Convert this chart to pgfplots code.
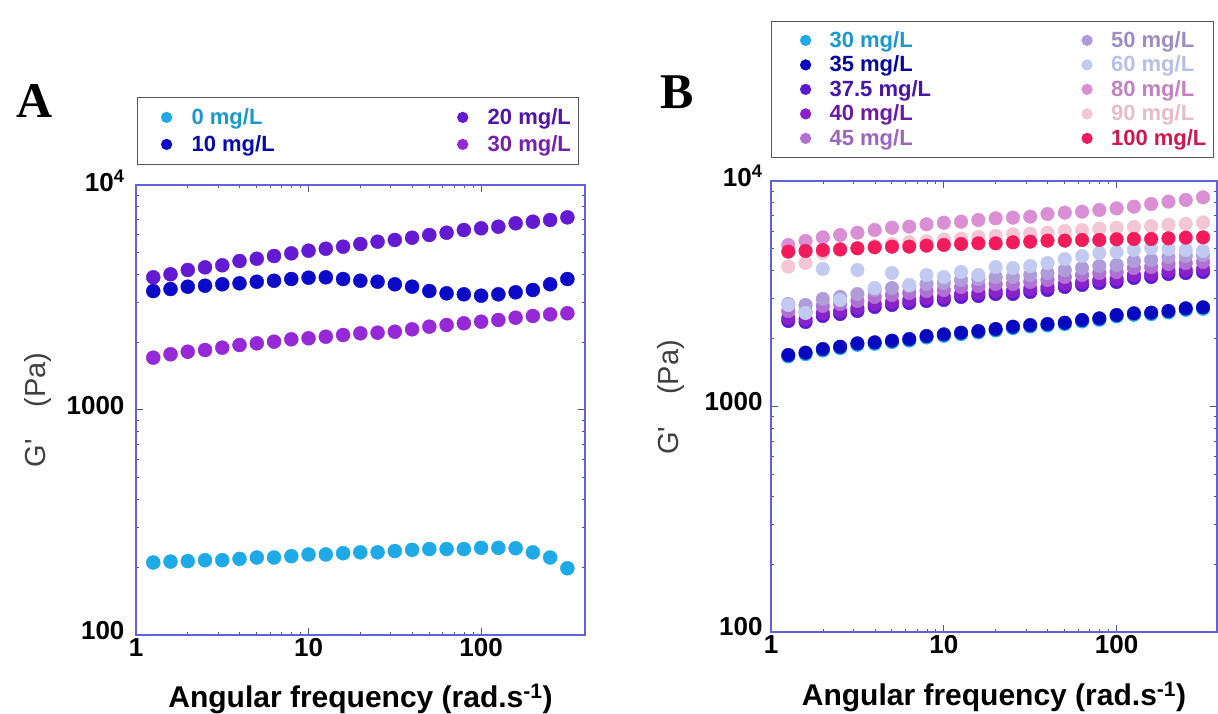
\documentclass[border=0pt]{standalone}
\usepackage{pgfplots}
\pgfplotsset{compat=1.18}
\usepackage{pgfplotstable}
\usepackage{fontspec}
\setmainfont{Liberation Sans}
\newfontfamily\seriffont{Liberation Serif}

\definecolor{frameblue}{HTML}{6262D6}
\definecolor{tickcol}{HTML}{55557A}
\definecolor{cAa}{HTML}{1EAAE6}
\definecolor{cAb}{HTML}{0A0AC8}
\definecolor{cAc}{HTML}{6419D2}
\definecolor{cAd}{HTML}{9628D7}
\definecolor{cBa}{HTML}{1EAAE6}
\definecolor{cBb}{HTML}{0808C0}
\definecolor{cBc}{HTML}{5A1AD2}
\definecolor{cBd}{HTML}{8A22CC}
\definecolor{cBe}{HTML}{B070D4}
\definecolor{cBf}{HTML}{B09CDA}
\definecolor{cBg}{HTML}{C2CAF2}
\definecolor{cBh}{HTML}{DA8ED4}
\definecolor{cBi}{HTML}{F2C6D4}
\definecolor{cBj}{HTML}{F21C5C}

\pgfplotstableread{
w s0 s10 s20 s30
1.2589 210 3379 3890 1708
1.5849 212 3449 4010 1769
1.9953 213 3532 4190 1816
2.5119 215 3568 4306 1848
3.1623 215 3620 4397 1892
3.9811 218 3657 4594 1945
5.0119 221 3717 4702 1979
6.3096 221 3755 4835 2012
7.9433 224 3821 4970 2062
10 228 3873 5105 2083
12.589 228 3889 5210 2117
15.849 231 3821 5318 2154
19.953 233 3755 5467 2192
25.119 233 3717 5597 2206
31.623 236 3620 5697 2228
39.811 239 3532 5832 2284
50.119 241 3379 5995 2346
63.096 241 3301 6138 2387
79.433 241 3267 6310 2429
100 244 3221 6421 2469
125.89 244 3267 6526 2512
158.49 243 3335 6757 2572
199.53 233 3415 6869 2617
251.19 221 3620 6990 2662
316.23 198 3821 7183 2691
}\tabA

\pgfplotstableread{
w s30 s35 s375 s40 s45 s50 s60 s80 s90 s100
1.2589 1667 1692 2394 2468 2651 2848 2819 5203 4170 4861
1.5849 1707 1733 2370 2444 2625 2819 2598 5419 4330 4894
1.9953 1772 1799 2520 2598 2791 2998 4071 5627 4800 4943
2.5119 1814 1842 2572 2652 2848 3060 2967 5762 4950 4977
3.1623 1877 1906 2651 2733 2936 3153 4030 5901 5050 5028
3.9811 1897 1926 2762 2848 3059 3285 3354 6064 5150 5080
5.0119 1930 1959 2819 2906 3122 3353 3909 6209 5250 5115
6.3096 1962 1992 2877 2966 3186 3422 3458 6274 5350 5115
7.9433 2023 2054 2936 3027 3251 3492 3829 6425 5400 5167
10 2058 2089 2967 3059 3286 3529 3752 6536 5500 5203
12.589 2093 2125 3059 3154 3388 3639 3949 6604 5550 5255
15.849 2129 2161 3090 3186 3422 3676 3829 6718 5650 5292
19.953 2173 2206 3154 3252 3493 3752 4155 6834 5700 5292
25.119 2225 2259 3154 3252 3493 3752 4113 6880 5800 5346
31.623 2264 2298 3219 3319 3565 3829 4198 6950 5850 5383
39.811 2287 2322 3286 3388 3639 3909 4328 7142 5900 5438
50.119 2318 2353 3388 3493 3752 4030 4509 7240 6000 5438
63.096 2383 2419 3458 3565 3829 4113 4649 7311 6050 5475
79.433 2423 2460 3529 3638 3908 4198 4794 7437 6150 5475
100 2508 2546 3565 3675 3948 4241 4843 7565 6200 5513
125.89 2551 2590 3714 3829 4113 4418 4943 7695 6250 5532
158.49 2568 2607 3752 3868 4155 4463 5046 7907 6300 5532
199.53 2612 2652 3869 3989 4285 4602 4994 8099 6400 5570
251.19 2684 2725 3909 4030 4329 4649 4943 8238 6450 5608
316.23 2713 2754 3949 4071 4373 4697 4893 8464 6550 5627
}\tabB

\begin{document}
\begin{tikzpicture}
\useasboundingbox (0pt,0pt) rectangle (1218pt,713pt);
\node[anchor=base, font=\fontsize{50}{50}\selectfont\seriffont\bfseries] at (35pt,595pt) {A};
\node[anchor=base, font=\fontsize{50}{50}\selectfont\seriffont\bfseries] at (677pt,604pt) {B};

\begin{axis}[at={(136pt,78pt)}, anchor=south west,
  scale only axis, width=449pt, height=450pt,
  xmode=log, ymode=log, xmin=1, xmax=400, ymin=100, ymax=10000,
  axis line style={draw=frameblue, line width=1.3pt},
  tick style={draw=tickcol, line width=1pt},
  tick align=inside, major tick length=7pt,
  xtick={1,10,100}, xticklabels={1,10,100},
  ytick={100,1000,10000}, yticklabels={100,1000,10\textsuperscript{4}},
  minor xtick={}, minor ytick={},
  tick label style={font=\fontsize{26}{26}\selectfont\bfseries},
  yticklabel style={xshift=-8pt, yshift=4pt},
  xlabel={Angular frequency (rad.s\textsuperscript{-1})},
  xlabel style={font=\fontsize{30}{30}\selectfont\bfseries, at={(axis description cs:0.5,-0.162)}, anchor=base},
  ylabel={G\textquotesingle\hspace{32pt}(Pa)},
  ylabel style={font=\fontsize{29}{29}\selectfont\color{black!75}, at={(axis description cs:-0.218,0.5)}, anchor=center},
  legend columns=2, transpose legend, legend cell align=left,
  legend style={at={(axis description cs:0,1)}, anchor=south west, xshift=1pt, yshift=20pt,
    draw=black!65, line width=1.2pt, inner xsep=6pt, inner ysep=10pt, row sep=7pt,
    font=\fontsize{22}{22}\selectfont\bfseries,
    nodes={inner sep=2pt, text height=15pt, text depth=1pt},
    /tikz/every even column/.append style={column sep=163pt}},
  legend image code/.code={\path[draw=none,fill=none] (0pt,0pt) -- (46pt,0pt); \draw[#1, mark size=5pt] plot coordinates {(23pt,0pt)};},
]
\addplot[only marks, mark=*, mark size=7pt, color=cAa] table[x=w,y=s0]{\tabA};
\addlegendentry{\textcolor{cAa!90!black}{0 mg/L}}
\addplot[only marks, mark=*, mark size=7pt, color=cAb] table[x=w,y=s10]{\tabA};
\addlegendentry{\textcolor{cAb!85!black}{10 mg/L}}
\addplot[only marks, mark=*, mark size=7pt, color=cAc] table[x=w,y=s20]{\tabA};
\addlegendentry{\textcolor{cAc!80!black}{20 mg/L}\hspace{6pt}}
\addplot[only marks, mark=*, mark size=7pt, color=cAd] table[x=w,y=s30]{\tabA};
\addlegendentry{\textcolor{cAd!80!black}{30 mg/L}\hspace{6pt}}
\end{axis}

\begin{axis}[at={(771pt,81pt)}, anchor=south west,
  scale only axis, width=446pt, height=451pt,
  xmode=log, ymode=log, xmin=1, xmax=381, ymin=100, ymax=10000,
  axis line style={draw=frameblue, line width=1.3pt},
  tick style={draw=tickcol, line width=1pt},
  tick align=inside, major tick length=7pt,
  xtick={1,10,100}, xticklabels={1,10,100},
  ytick={100,1000,10000}, yticklabels={100,1000,10\textsuperscript{4}},
  minor xtick={}, minor ytick={},
  tick label style={font=\fontsize{26}{26}\selectfont\bfseries},
  yticklabel style={xshift=-5pt, yshift=5pt},
  xlabel={Angular frequency (rad.s\textsuperscript{-1})},
  xlabel style={font=\fontsize{30}{30}\selectfont\bfseries, at={(axis description cs:0.5,-0.162)}, anchor=base},
  ylabel={G\textquotesingle\hspace{32pt}(Pa)},
  ylabel style={font=\fontsize{29}{29}\selectfont\color{black!75}, at={(axis description cs:-0.225,0.52)}, anchor=center},
  legend columns=5, transpose legend, legend cell align=left,
  legend style={at={(axis description cs:0,1)}, anchor=south west, xshift=0pt, yshift=23pt,
    draw=black!65, line width=1.2pt, inner xsep=5pt, inner ysep=9pt, row sep=4.5pt,
    font=\fontsize{22}{22}\selectfont\bfseries,
    nodes={inner sep=2pt, text height=15pt, text depth=1pt},
    /tikz/every even column/.append style={column sep=125pt}},
  legend image code/.code={\path[draw=none,fill=none] (0pt,0pt) -- (51pt,0pt); \draw[#1, mark size=5pt] plot coordinates {(29pt,0pt)};},
]
\addplot[only marks, mark=*, mark size=6.8pt, color=cBa] table[x=w,y=s30]{\tabB};
\addlegendentry{\textcolor{cBa!90!black}{30 mg/L}}
\addplot[only marks, mark=*, mark size=6.8pt, color=cBb] table[x=w,y=s35]{\tabB};
\addlegendentry{\textcolor{cBb!80!black}{35 mg/L}}
\addplot[only marks, mark=*, mark size=6.8pt, color=cBc] table[x=w,y=s375]{\tabB};
\addlegendentry{\textcolor{cBc!80!black}{37.5 mg/L}}
\addplot[only marks, mark=*, mark size=6.8pt, color=cBd] table[x=w,y=s40]{\tabB};
\addlegendentry{\textcolor{cBd!80!black}{40 mg/L}}
\addplot[only marks, mark=*, mark size=6.8pt, color=cBe] table[x=w,y=s45]{\tabB};
\addlegendentry{\textcolor{cBe!90!black}{45 mg/L}}
\addplot[only marks, mark=*, mark size=6.8pt, color=cBf] table[x=w,y=s50]{\tabB};
\addlegendentry{\textcolor{cBf!90!black}{50 mg/L}\hspace{5pt}}
\addplot[only marks, mark=*, mark size=6.8pt, color=cBg] table[x=w,y=s60]{\tabB};
\addlegendentry{\textcolor{cBg!95!black}{60 mg/L}\hspace{5pt}}
\addplot[only marks, mark=*, mark size=6.8pt, color=cBh] table[x=w,y=s80]{\tabB};
\addlegendentry{\textcolor{cBh!90!black}{80 mg/L}\hspace{5pt}}
\addplot[only marks, mark=*, mark size=6.8pt, color=cBi] table[x=w,y=s90]{\tabB};
\addlegendentry{\textcolor{cBi!95!black}{90 mg/L}\hspace{5pt}}
\addplot[only marks, mark=*, mark size=6.8pt, color=cBj] table[x=w,y=s100]{\tabB};
\addlegendentry{\textcolor{cBj!85!black}{100 mg/L}\hspace{5pt}}
\end{axis}
\end{tikzpicture}
\end{document}
